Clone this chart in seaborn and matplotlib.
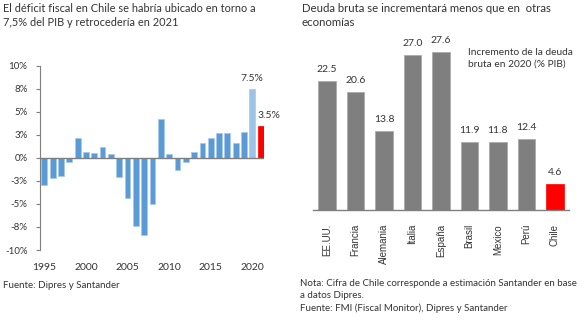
import matplotlib
matplotlib.use("Agg")
import matplotlib.pyplot as plt
import seaborn as sns
import pandas as pd
import numpy as np

# ---------------- data ----------------
years = list(range(1995, 2022))
deficit = [-3.0, -2.2, -2.0, -0.4, 2.1, 0.6, 0.5, 1.2, 0.4, -2.1, -4.4, -7.4,
           -8.4, -5.0, 4.2, 0.4, -1.3, -0.5, 0.6, 1.6, 2.1, 2.7, 2.7, 1.6, 2.8,
           7.5, 3.5]
deficit_group = ["hist"] * 25 + ["e2020", "e2021"]
left_tick_years = [1995, 2000, 2005, 2010, 2015, 2020]
left_yticks = [10, 7.5, 5, 2.5, 0, -2.5, -5, -7.5, -10]
left_ytick_labels = ["10%", "8%", "5%", "3%", "0%", "-3%", "-5%", "-8%", "-10%"]
left_value_labels = {2020: "7.5%", 2021: "3.5%"}

countries = ["EE.UU.", "Francia", "Alemania", "Italia", "España", "Brasil",
             "Mexico", "Perú", "Chile"]
debt_increase = [22.5, 20.6, 13.8, 27.0, 27.6, 11.9, 11.8, 12.4, 4.6]
debt_group = ["other"] * 8 + ["chile"]

title_left = "El déficit fiscal en Chile se habría ubicado en torno a\n7,5% del PIB y retrocedería en 2021"
title_right = "Deuda bruta se incrementará menos que en  otras\neconomías"
legend_right = "Incremento de la deuda\nbruta en 2020 (% PIB)"
source_left = "Fuente: Dipres y Santander"
source_right = ("Nota: Cifra de Chile corresponde a estimación Santander en base\n"
                "a datos Dipres.\nFuente: FMI (Fiscal Monitor), Dipres y Santander")

# ---------------- style ----------------
sns.set_theme(style="white")
plt.rcParams["font.family"] = ["Lato", "DejaVu Sans"]
TXT = "#333333"
AX = "#7f7f7f"

fig = plt.figure(figsize=(5.87, 3.23), dpi=100)

# ---------------- left chart ----------------
axL = fig.add_axes([40 / 587, 1 - 250 / 323, 224 / 587, 184.3 / 323])
dfL = pd.DataFrame({"year": [str(y) for y in years], "val": deficit,
                    "grp": deficit_group})
sns.barplot(data=dfL, x="year", y="val", hue="grp", dodge=False,
            palette={"hist": "#5b9bd5", "e2020": "#9dc3e6", "e2021": "#ff0000"},
            saturation=1, width=0.7, legend=False, ax=axL,
            edgecolor="#a8c8ea", linewidth=0.5)
for p in axL.patches:
    if np.allclose(p.get_facecolor()[:3], (1, 0, 0)):
        p.set_edgecolor("#ff0000")
axL.set_xlim(-0.52, 26.4)
axL.set_ylim(-10, 10)
axL.set_yticks(left_yticks)
axL.set_yticklabels(left_ytick_labels)
axL.set_xticks([years.index(y) for y in left_tick_years])
axL.set_xticklabels([str(y) for y in left_tick_years])
axL.set_xlabel("")
axL.set_ylabel("")
for s in ["top", "right", "bottom"]:
    axL.spines[s].set_visible(False)
axL.spines["left"].set_color(AX)
axL.spines["left"].set_linewidth(0.8)
axL.axhline(0, color=AX, lw=1.0, zorder=3)
axL.tick_params(axis="y", which="both", left=True, length=3, width=0.8,
                color=AX, labelsize=7, labelcolor=TXT, pad=6)
axL.tick_params(axis="x", bottom=False, labelsize=7.5, labelcolor=TXT, pad=3)
i2020 = years.index(2020)
i2021 = years.index(2021)
axL.text(i2020, deficit[i2020] + 0.6, left_value_labels[2020], ha="center",
         va="bottom", fontsize=7.5, color=TXT)
axL.text(i2021 - 0.4, deficit[i2021] + 0.6, left_value_labels[2021], ha="left",
         va="bottom", fontsize=7.5, color=TXT)

# ---------------- right chart ----------------
axR = fig.add_axes([313 / 587, 1 - 210 / 323, 256 / 587, 172 / 323])
dfR = pd.DataFrame({"country": countries, "val": debt_increase, "grp": debt_group})
sns.barplot(data=dfR, x="country", y="val", hue="grp", dodge=False,
            palette={"other": "#7f7f7f", "chile": "#ff0000"}, saturation=1,
            width=0.62, legend=False, ax=axR, edgecolor="#a6a6a6", linewidth=0.5)
for p in axR.patches:
    if np.allclose(p.get_facecolor()[:3], (1, 0, 0)):
        p.set_edgecolor("#ff0000")
axR.set_xlim(-0.5, 8.5)
axR.set_ylim(0, 30)
axR.set_yticks([])
axR.set_xlabel("")
axR.set_ylabel("")
for s in ["top", "right", "left"]:
    axR.spines[s].set_visible(False)
axR.spines["bottom"].set_color(AX)
axR.spines["bottom"].set_linewidth(1.0)
axR.tick_params(axis="x", bottom=False, pad=4)
for lab in axR.get_xticklabels():
    lab.set_rotation(90)
    lab.set_family(["Liberation Sans", "DejaVu Sans"])
    lab.set_fontsize(7)
    lab.set_color(TXT)
    lab.set_va("top")
    lab.set_ha("center")
for i, v in enumerate(debt_increase):
    axR.text(i, v + 1.2, f"{v:.1f}", ha="center", va="bottom", fontsize=7.5,
             color=TXT)
axR.text(4.95, 28.2, legend_right, ha="left", va="top", fontsize=7.3,
         color=TXT, linespacing=1.35)

# ---------------- titles & footnotes ----------------
fig.text(3 / 587, 1 - 3 / 323, title_left, ha="left", va="top", fontsize=7.9,
         color=TXT, linespacing=1.3)
fig.text(302 / 587, 1 - 3 / 323, title_right, ha="left", va="top", fontsize=8.2,
         color=TXT, linespacing=1.3)
fig.text(3 / 587, 1 - 285 / 323, source_left, ha="left", va="center",
         fontsize=7, color=TXT)
fig.text(300 / 587, 1 - 279 / 323, source_right, ha="left", va="top",
         fontsize=7, color=TXT, linespacing=1.45)

fig.savefig("out.png", dpi=100, facecolor="white")
